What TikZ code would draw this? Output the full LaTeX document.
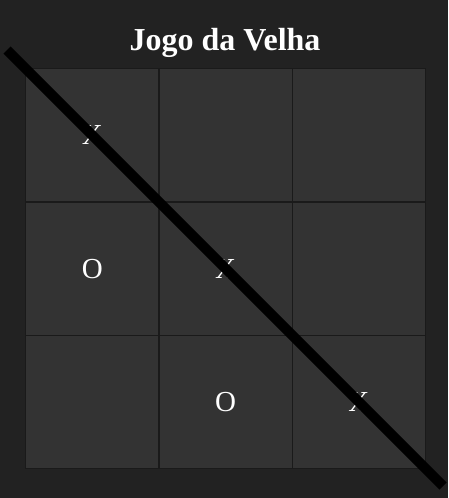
\documentclass[tikz,border=0pt]{standalone}
\usepackage{fontspec}
\setmainfont{Liberation Serif}
\definecolor{bg}{HTML}{222222}
\definecolor{cellc}{HTML}{333333}
\definecolor{gridc}{HTML}{1A1A1A}
\begin{document}
\begin{tikzpicture}[x=1pt,y=-1pt,
  cell/.style={draw=gridc,line width=1.2pt,fill=cellc,minimum size=133.33pt,inner sep=0pt,anchor=north west},
  symb/.style={text=white,font=\fontsize{29}{29}\selectfont},
  title/.style={text=white,font=\bfseries\fontsize{32}{32}\selectfont}]
\fill[bg] (0,0) rectangle (448,498);
\useasboundingbox (0,0) rectangle (448,498);
\node[title] (t) at (225,43) {Jogo da Velha};
\foreach \r in {0,1,2}{\foreach \c in {0,1,2}{
  \node[cell] (c\r\c) at ({25+133.33*\c},{68+133.33*\r}) {};
}}
\node[symb] (m00) at (c00) {X};
\node[symb] (m10) at (c10) {O};
\node[symb] (m11) at (c11) {X};
\node[symb] (m21) at (c21) {O};
\node[symb] (m22) at (c22) {X};
\coordinate (s) at (7,50);
\coordinate (e) at (443,486);
\draw[black,line width=10pt] (s) -- (e);
\end{tikzpicture}
\end{document}
